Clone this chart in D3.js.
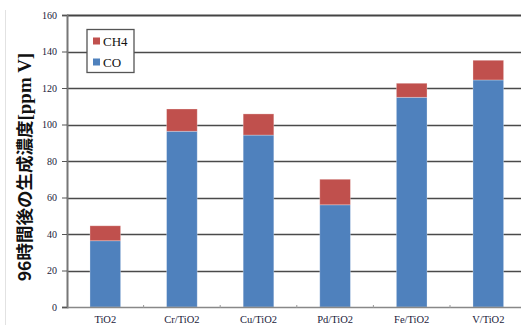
<!DOCTYPE html>
<html>
<head>
<meta charset="utf-8">
<script src="https://cdn.jsdelivr.net/npm/d3@7"></script>
<style>
  html, body { margin: 0; padding: 0; background: #fff; }
  svg { display: block; }
</style>
</head>
<body>
<div id="chart"></div>
<script>
// Catalysts and gas concentrations after 96 hours (ppmV)
const categories = ["TiO2", "Cr/TiO2", "Cu/TiO2", "Pd/TiO2", "Fe/TiO2", "V/TiO2"];
const coValues   = [36.3, 96.3, 94.2, 56.0, 114.9, 124.4];
const ch4Values  = [8.2, 12.2, 11.6, 14.0, 7.7, 10.8];
const yTicks     = [0, 20, 40, 60, 80, 100, 120, 140, 160];
const seriesNames = ["CH4", "CO"];
const seriesColors = { CO: "#4F81BD", CH4: "#C0504D" };

const W = 521, H = 325;
const plotLeft = 67, plotTop = 15, plotBottom = 307;
const plotRight = plotLeft + 6 * 76.6;
const serif = "'Liberation Serif', 'Times New Roman', serif";

const svg = d3.select("#chart").append("svg")
  .attr("width", W).attr("height", H);

// faint frame line at the far left
svg.append("line")
  .attr("x1", 5.5).attr("x2", 5.5).attr("y1", 10).attr("y2", 325)
  .attr("stroke", "#e2e2e2").attr("stroke-width", 1);

const x = d3.scaleBand().domain(categories).range([plotLeft, plotRight]).paddingInner(0.6).paddingOuter(0.3);
const xb = d3.scaleBand().domain(categories).range([plotLeft, plotRight]);
const y = d3.scaleLinear().domain([0, 160]).range([plotBottom, plotTop]);

// horizontal gridlines
svg.append("g").selectAll("line")
  .data(yTicks.filter(d => d > 0))
  .join("line")
  .attr("x1", plotLeft).attr("x2", plotRight)
  .attr("y1", d => Math.round(y(d)) + 0.5).attr("y2", d => Math.round(y(d)) + 0.5)
  .attr("stroke", d => d === 160 ? "#444" : "#4a4a4a")
  .attr("stroke-width", d => d === 160 ? 2 : 1.3);

// stacked bars
const rows = categories.map((c, i) => ({ cat: c, CO: coValues[i], CH4: ch4Values[i] }));
const stack = d3.stack().keys(["CO", "CH4"])(rows);

svg.append("g").selectAll("g")
  .data(stack)
  .join("g")
  .attr("fill", d => seriesColors[d.key])
  .selectAll("rect")
  .data(d => d)
  .join("rect")
  .attr("x", d => x(d.data.cat))
  .attr("width", x.bandwidth())
  .attr("y", d => y(d[1]))
  .attr("height", d => y(d[0]) - y(d[1]))
  .attr("stroke", "rgba(255,255,255,0.35)")
  .attr("stroke-width", 0.8);

// y axis
const yAxis = d3.axisLeft(y).tickValues(yTicks).tickSize(5).tickPadding(5);
const gy = svg.append("g").attr("transform", `translate(${plotLeft},0)`).call(yAxis);
gy.select(".domain").attr("stroke", "#777").attr("stroke-width", 2);
gy.selectAll(".tick line").attr("stroke", "#555");
gy.selectAll(".tick text")
  .attr("font-family", serif)
  .attr("font-size", 10).attr("fill", "#1a1a3a");

// x axis
const xAxis = d3.axisBottom(xb).tickSize(0).tickPadding(9);
const gx = svg.append("g").attr("transform", `translate(0,${plotBottom})`).call(xAxis);
gx.select(".domain").attr("stroke", "#888").attr("stroke-width", 1.5);
gx.selectAll(".tick text")
  .attr("font-family", serif)
  .attr("font-size", 10.5).attr("fill", "#1a1a3a");
// small separators between categories
svg.append("g").selectAll("line")
  .data(categories.slice(1))
  .join("line")
  .attr("x1", d => xb(d)).attr("x2", d => xb(d))
  .attr("y1", plotBottom - 2).attr("y2", plotBottom + 1)
  .attr("stroke", "#999");

// y axis title
const title = svg.append("text")
  .attr("transform", "translate(31,167) rotate(-90)")
  .attr("text-anchor", "middle")
  .attr("font-family", "'Noto Sans CJK JP', sans-serif")
  .attr("font-weight", "bold")
  .attr("font-size", 17.5)
  .attr("fill", "#111");
title.append("tspan").text("96時間後の生成濃度");
title.append("tspan").attr("font-family", serif).attr("font-size", 19).text("[ppm V]");

// legend
const lg = svg.append("g").attr("transform", "translate(87,29.5)");
lg.append("rect")
  .attr("width", 47).attr("height", 43)
  .attr("fill", "#fff").attr("stroke", "#555").attr("stroke-width", 1.3);
seriesNames.forEach((name, i) => {
  lg.append("rect")
    .attr("x", 6).attr("y", 8 + i * 21)
    .attr("width", 7).attr("height", 7)
    .attr("fill", seriesColors[name]);
  lg.append("text")
    .attr("x", 16).attr("y", 16 + i * 21)
    .attr("font-family", serif)
    .attr("font-size", 13).attr("fill", "#111")
    .text(name);
});
</script>
</body>
</html>
